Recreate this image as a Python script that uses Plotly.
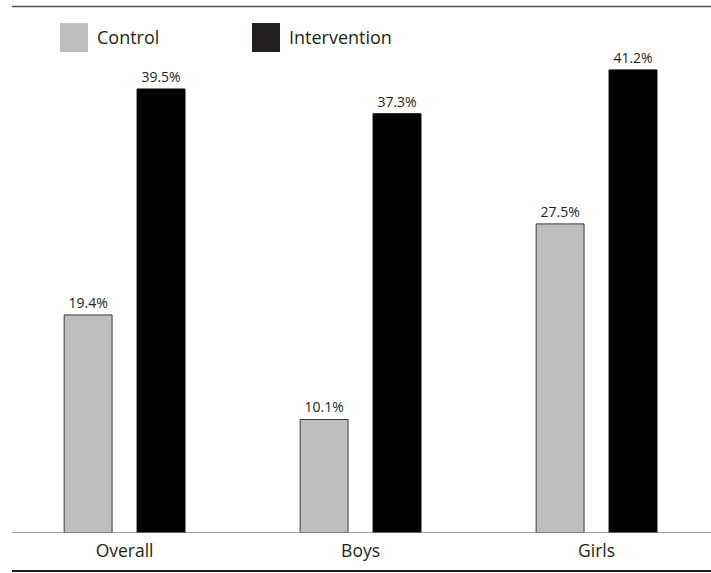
import plotly.graph_objects as go

# Share of children (%) by group and study arm
groups = ["Overall", "Boys", "Girls"]
control = [19.4, 10.1, 27.5]
intervention = [39.5, 37.3, 41.2]
series_names = ["Control", "Intervention"]

W, H = 711, 573
M_L, M_R, M_T, M_B = 8, 0, 8, 40
plot_h = H - M_T - M_B
plot_w = W - M_L - M_R

FONT = "Open Sans, Lato, sans-serif"
TXT = "#231f20"

xs = list(range(len(groups)))
bar_w = 0.203


def px_x(px):
    return (px - M_L) / plot_w


def px_y(py):
    return (H - M_B - py) / plot_h


fig = go.Figure()
fig.add_trace(go.Bar(
    x=xs, y=control, name=series_names[0],
    width=bar_w, offset=-0.256,
    marker=dict(color="#bebebe", line=dict(color="#3a3a3a", width=1)),
    text=[f"{v:.1f}%" for v in control], textposition="outside",
    textfont=dict(size=14, color=TXT, family=FONT),
    cliponaxis=False, showlegend=False,
))
fig.add_trace(go.Bar(
    x=xs, y=intervention, name=series_names[1],
    width=bar_w, offset=0.053,
    marker=dict(color="#000000", line=dict(color="#000000", width=1)),
    text=[f"{v:.1f}%" for v in intervention], textposition="outside",
    textfont=dict(size=14, color=TXT, family=FONT),
    cliponaxis=False, showlegend=False,
))

# Legend swatches and labels
legend_items = [
    (series_names[0], "#bcbec0", 60, 88, 95),
    (series_names[1], "#231f20", 252, 280, 287),
]
shapes = []
annotations = []
for name, col, x0, x1, tx in legend_items:
    shapes.append(dict(type="rect", xref="paper", yref="paper",
                       x0=px_x(x0), x1=px_x(x1),
                       y0=px_y(52), y1=px_y(23),
                       fillcolor=col, line=dict(width=0)))
    annotations.append(dict(xref="paper", yref="paper",
                            x=px_x(tx), y=px_y(37),
                            text=name, showarrow=False, xanchor="left", yanchor="middle",
                            font=dict(size=18, color=TXT, family=FONT)))

# Top and bottom rules
shapes.append(dict(type="line", xref="paper", yref="paper",
                   x0=px_x(12), x1=1.0, y0=px_y(6.5), y1=px_y(6.5),
                   line=dict(color="#4d4d4f", width=1.5)))
shapes.append(dict(type="line", xref="paper", yref="paper",
                   x0=px_x(12), x1=1.0, y0=px_y(571), y1=px_y(571),
                   line=dict(color="#231f20", width=2)))
# Baseline
shapes.append(dict(type="line", xref="paper", yref="y",
                   x0=px_x(12), x1=1.0, y0=0, y1=0,
                   line=dict(color="#808285", width=1.5)))

px_per_unit = 11.24
fig.update_layout(
    width=W, height=H,
    margin=dict(l=M_L, r=M_R, t=M_T, b=M_B),
    paper_bgcolor="white", plot_bgcolor="white",
    barmode="overlay",
    shapes=shapes, annotations=annotations,
    xaxis=dict(range=[-0.494, 2.485], tickvals=xs, ticktext=groups,
               showgrid=False, zeroline=False, showline=False, ticks="",
               ticklabelstandoff=5,
               tickfont=dict(size=17.5, color=TXT, family=FONT)),
    yaxis=dict(range=[0, plot_h / px_per_unit], visible=False,
               showgrid=False, zeroline=False),
    showlegend=False,
)

fig.write_html("out.html")
